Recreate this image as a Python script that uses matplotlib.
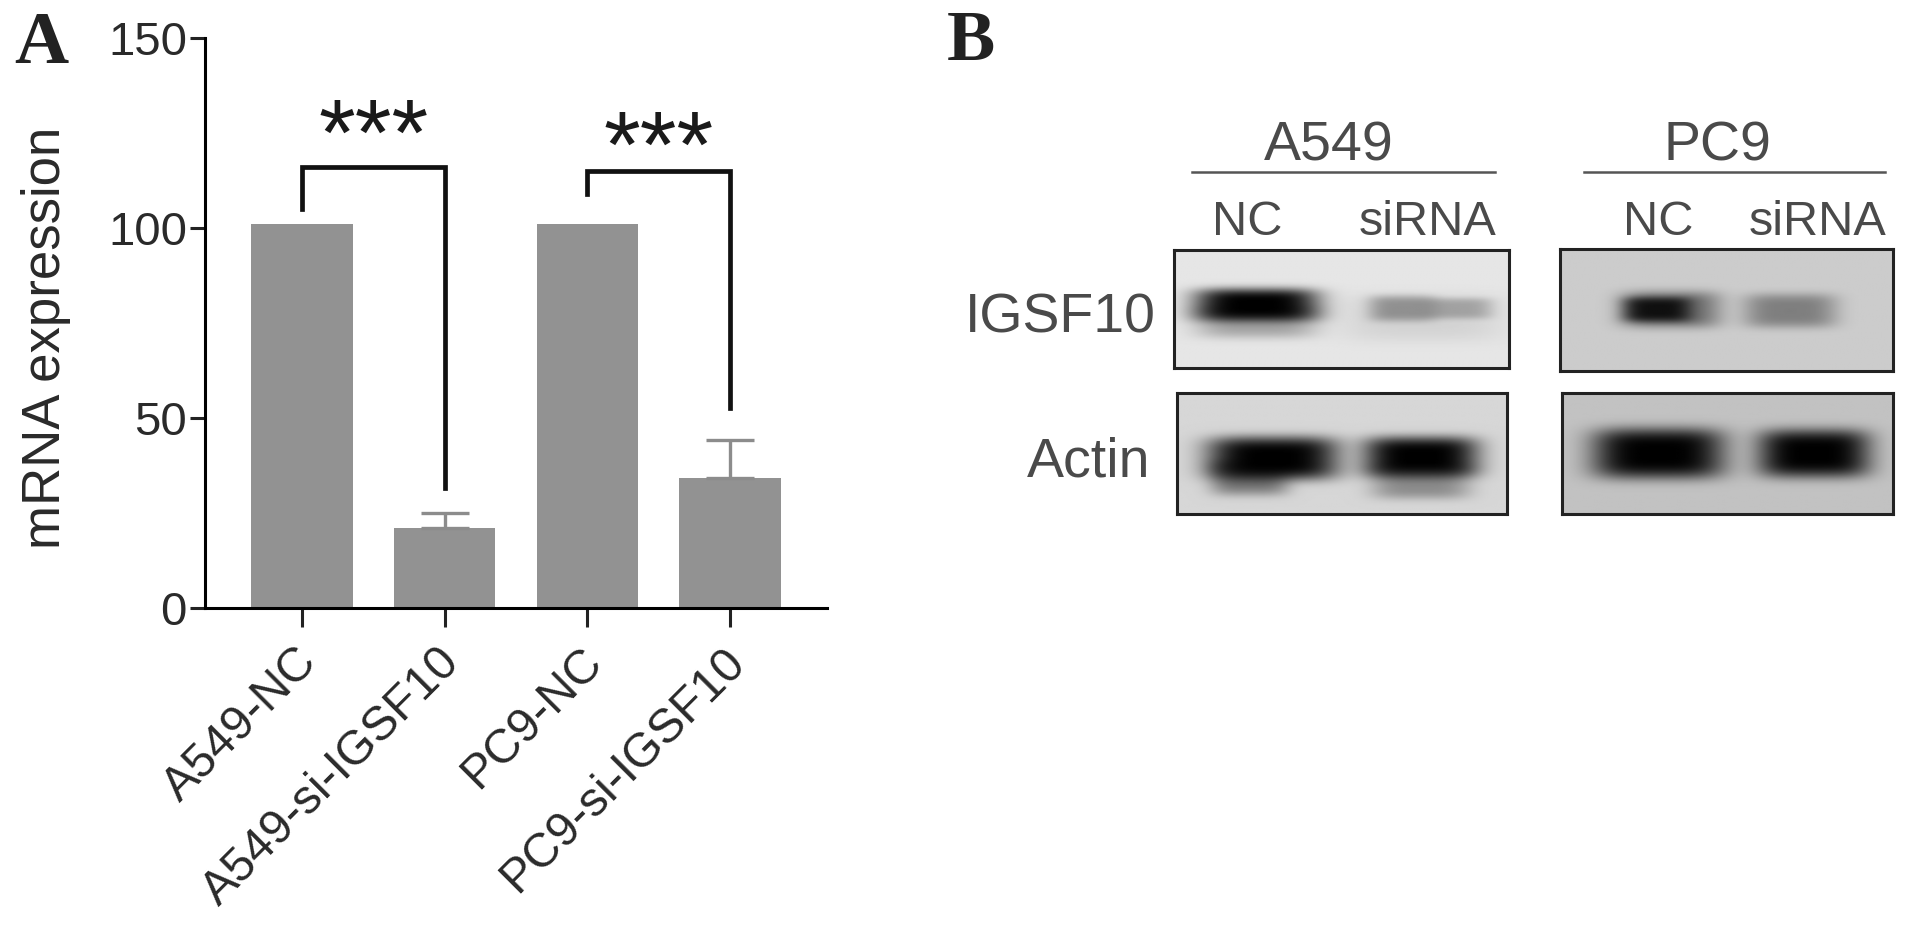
import numpy as np
import matplotlib
matplotlib.use('Agg')
import matplotlib.pyplot as plt
from matplotlib.transforms import ScaledTranslation

W, H = 1913, 930
SC = 1913 / 1568  # picture coords were read on the shrunk image

# ---- Bar data ----
categories = ['A549-NC', 'A549-si-IGSF10', 'PC9-NC', 'PC9-si-IGSF10']
values = [101, 21, 101, 34]
err_x = [1, 3]
err_base = [21, 34]
err_up = [4, 10]
y_ticks = [0, 50, 100, 150]

# bracket: left x, right x, top, left end, right end
brackets = [(0, 1, 116, 105, 31.5), (2, 3, 115, 109, 52.5)]
star_pos = [(0.5, 123), (2.5, 120)]

# ---- Blot data: (cx, cy, half width, half height, darkness) in panel fractions ----
blot_igsf_a549 = [(0.245, 0.47, 0.185, 0.14, 1.0), (0.245, 0.60, 0.18, 0.15, 0.30),
                  (0.68, 0.50, 0.10, 0.11, 0.32), (0.85, 0.50, 0.10, 0.09, 0.24),
                  (0.74, 0.58, 0.24, 0.20, 0.08)]
blot_igsf_pc9 = [(0.29, 0.50, 0.10, 0.10, 0.85), (0.33, 0.50, 0.15, 0.15, 0.50),
                 (0.69, 0.51, 0.14, 0.14, 0.38)]
blot_actin_a549 = [(0.29, 0.54, 0.20, 0.18, 1.0), (0.74, 0.53, 0.175, 0.17, 1.0),
                   (0.22, 0.70, 0.12, 0.15, 0.45), (0.74, 0.74, 0.15, 0.14, 0.35)]
blot_actin_pc9 = [(0.29, 0.50, 0.20, 0.21, 1.0), (0.76, 0.50, 0.17, 0.20, 1.0)]


def px_axes(x0, y0, x1, y1, **kw):
    # rectangle given in shrunk image pixels, y going down
    return fig.add_axes([x0 * SC / W, 1 - y1 * SC / H, (x1 - x0) * SC / W, (y1 - y0) * SC / H], **kw)


def fig_text(x, y, s, **kw):
    fig.text(x * SC / W, 1 - y * SC / H, s, ha='center', va='center', **kw)


def draw_blot(rect, bands, bg):
    ax_b = px_axes(*rect)
    xx, yy = np.meshgrid(np.linspace(0, 1, 280), np.linspace(0, 1, 100))
    im = np.full(xx.shape, bg)
    for cx, cy, hw, hh, dark in bands:
        g = np.exp(-(((xx - cx) / hw) ** 4 + ((yy - cy) / hh) ** 4))
        im = im * (1 - dark * g)
    ax_b.imshow(im, cmap='gray', vmin=0, vmax=1, aspect='auto', extent=[0, 1, 1, 0], interpolation='bilinear')
    ax_b.set_xticks([]); ax_b.set_yticks([])
    for s in ax_b.spines.values():
        s.set_linewidth(2.2); s.set_color('#222222')


plt.rcParams['font.family'] = ['Liberation Sans', 'DejaVu Sans']
fig = plt.figure(figsize=(W / 100, H / 100), dpi=100)

# ---- Panel A ----
ax = px_axes(168, 31, 678, 498)
ax.bar(range(4), values, width=0.71, color='#929292')
ax.errorbar(err_x, err_base, yerr=[[0, 0], err_up], fmt='none', ecolor='#8c8c8c',
            elinewidth=2.4, capsize=17, capthick=2.4)
for x0, x1, top, l_end, r_end in brackets:
    ax.plot([x0, x0, x1, x1], [l_end, top, top, r_end], color='#111111', lw=3.4, solid_joinstyle='miter')
for x, y in star_pos:
    ax.text(x, y, '***', fontsize=68, ha='center', va='center', color='#1a1a1a')
ax.set_xlim(-0.68, 3.68)
ax.set_ylim(0, 150)
ax.set_yticks(y_ticks)
ax.set_xticks(range(4))
ax.set_xticklabels(categories, rotation=45, ha='right', rotation_mode='anchor', fontsize=34.5, color='#2a2a2a')
ax.tick_params(axis='y', labelsize=34, width=2.2, length=11, labelcolor='#2a2a2a', color='#222222', pad=2)
ax.tick_params(axis='x', width=2.2, length=14, color='#222222', pad=9)
# x labels sit a little left of their ticks, set last so tick_params can't undo it
for lab in ax.get_xticklabels():
    lab.set_transform(lab.get_transform() + ScaledTranslation(-0.08, 0, fig.dpi_scale_trans))
ax.spines['top'].set_visible(False)
ax.spines['right'].set_visible(False)
ax.spines['left'].set_linewidth(2.2)
ax.spines['bottom'].set_linewidth(2.2)
ax.set_ylabel('mRNA expression', fontsize=38, color='#2a2a2a')
ax.yaxis.set_label_coords(-0.216, 0.473)

fig_text(34, 37, 'A', family='Liberation Serif', fontweight='bold', fontsize=54, color='#222222')
fig_text(796, 35, 'B', family='Liberation Serif', fontweight='bold', fontsize=52, color='#222222')

# ---- Panel B ----
draw_blot((962, 205, 1237, 302), blot_igsf_a549, 0.90)
draw_blot((1279, 204, 1552, 304), blot_igsf_pc9, 0.80)
draw_blot((965, 322, 1235, 421), blot_actin_a549, 0.84)
draw_blot((1280, 322, 1552, 421), blot_actin_pc9, 0.76)

txt = '#4a4a4a'
fig_text(1089, 120, 'A549', fontsize=40, color=txt)
fig_text(1408, 120, 'PC9', fontsize=40, color=txt)
fig_text(1022, 182, 'NC', fontsize=35, color=txt)
fig_text(1170, 182, 'siRNA', fontsize=35, color=txt)
fig_text(1359, 182, 'NC', fontsize=35, color=txt)
fig_text(1490, 182, 'siRNA', fontsize=35, color=txt)
fig_text(869, 261, 'IGSF10', fontsize=40, color=txt)
fig_text(892, 379, 'Actin', fontsize=40, color=txt)

for x0, x1 in [(977, 1225), (1298, 1545)]:
    fig.add_artist(plt.Line2D([x0 * SC / W, x1 * SC / W], [1 - 141 * SC / H] * 2, color='#555555', lw=1.8))

fig.savefig('out.png', dpi=100)
